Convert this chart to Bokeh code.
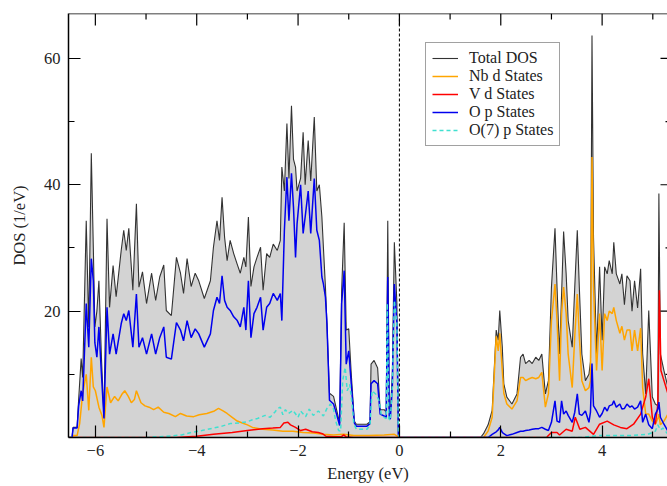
import math
from bokeh.plotting import figure
from bokeh.models import Range1d, FixedTicker, Span, Legend, LegendItem
from bokeh.embed import file_html
from bokeh.resources import INLINE

# ---------------- data ----------------
energy_valence = [-6.53, -6.46, -6.44, -6.36, -6.33, -6.28, -6.25, -6.18, -6.13, -6.08,
                  -6.04, -6.01, -5.97, -5.93, -5.88, -5.83, -5.77, -5.72, -5.65, -5.59,
                  -5.49, -5.44, -5.39, -5.34, -5.26, -5.19, -5.14, -5.07, -4.99, -4.89,
                  -4.81, -4.73, -4.65, -4.60, -4.50, -4.40, -4.32, -4.26, -4.19, -4.11,
                  -4.03, -3.96, -3.85, -3.73, -3.67, -3.60, -3.55, -3.50, -3.45, -3.40,
                  -3.34, -3.27, -3.20, -3.14, -3.07, -3.03, -2.98, -2.93, -2.87, -2.81,
                  -2.74, -2.69, -2.62, -2.56, -2.49, -2.41, -2.35, -2.32, -2.27, -2.22,
                  -2.18, -2.13, -2.09, -2.05, -2.02, -1.95, -1.90, -1.86, -1.80, -1.75,
                  -1.68, -1.63, -1.58, -1.53, -1.50, -1.46, -1.43, -1.38, -1.30, -1.24,
                  -1.18, -1.14, -1.09, -1.05, -1.00, -0.95, -0.89, -0.85, -0.64, -0.58,
                  -0.56, -0.50, -0.43, -0.38, -0.30, -0.26, -0.23, -0.20, -0.18, -0.14,
                  -0.10, -0.05, -0.02, 0.00]
total_valence = [0, 0, 1.6, 1.6, 6.0, 12.5, 9.5, 34.3, 17.5, 45.0,
                 30.0, 17.5, 20.0, 24.8, 12.7, 3.2, 34.6, 20.6, 27.2, 22.3,
                 29.6, 32.8, 29.6, 33.1, 23.3, 37.0, 23.8, 26.2, 21.2, 26.0,
                 21.7, 25.4, 27.3, 20.1, 19.3, 28.5, 26.0, 22.8, 28.3, 23.9,
                 26.0, 24.8, 22.0, 24.8, 30.1, 34.3, 31.2, 38.0, 31.7, 28.0,
                 31.2, 29.1, 27.4, 26.0, 28.5, 27.0, 34.9, 23.9, 27.0, 28.5,
                 30.1, 23.3, 29.1, 28.5, 30.6, 29.6, 31.2, 42.8, 39.0, 49.7,
                 41.0, 52.5, 44.0, 42.8, 39.0, 41.0, 48.3, 40.0, 47.0, 40.6,
                 50.7, 39.0, 40.0, 34.9, 30.1, 23.8, 18.0, 7.0, 6.5, 4.4,
                 2.3, 23.3, 34.0, 17.0, 17.2, 10.0, 2.6, 2.1, 2.1, 2.5,
                 11.6, 12.2, 11.0, 4.4, 4.4, 4.0, 34.3, 4.0, 3.9, 10.0,
                 30.9, 21.2, 0.5, 0.0]
op_valence = [0, 0, 1.5, 1.5, 5.0, 7.4, 5.8, 21.2, 14.3, 28.3,
              24.8, 15.0, 12.7, 17.5, 10.0, 3.0, 20.6, 13.2, 16.4, 13.2,
              18.0, 19.6, 18.5, 20.1, 14.3, 22.7, 14.3, 15.8, 13.2, 16.4,
              13.2, 15.8, 17.5, 12.7, 12.4, 18.2, 17.0, 15.3, 18.5, 15.8,
              17.2, 16.4, 14.3, 16.4, 20.1, 22.2, 21.2, 25.6, 21.7, 20.6,
              20.1, 19.1, 18.5, 17.5, 20.6, 17.0, 24.8, 15.8, 19.6, 20.6,
              22.2, 17.0, 20.6, 21.2, 22.8, 21.7, 22.8, 18.5, 32.8, 41.2,
              34.3, 41.8, 36.4, 28.5, 33.8, 40.0, 32.3, 34.9, 39.0, 32.3,
              41.0, 32.8, 31.2, 25.4, 24.3, 22.2, 18.0, 5.9, 5.3, 3.7,
              1.9, 21.2, 26.4, 11.6, 13.7, 8.5, 2.3, 1.8, 1.8, 2.2,
              8.5, 9.0, 8.5, 3.7, 3.4, 3.2, 25.4, 3.2, 2.9, 8.0,
              24.3, 18.0, 0.4, 0.0]

energy_conduction = [1.60, 1.66, 1.75, 1.83, 1.91, 1.95, 1.98, 2.03, 2.06, 2.12,
                     2.22, 2.32, 2.39, 2.44, 2.49, 2.56, 2.62, 2.69, 2.75, 2.81,
                     2.88, 2.94, 3.00, 3.07, 3.11, 3.16, 3.20, 3.24, 3.29, 3.33,
                     3.41, 3.46, 3.51, 3.55, 3.60, 3.67, 3.74, 3.77, 3.80, 3.83,
                     3.89, 3.95, 4.00, 4.05, 4.10, 4.14, 4.20, 4.23, 4.28, 4.35,
                     4.39, 4.44, 4.49, 4.55, 4.59, 4.64, 4.70, 4.76, 4.80, 4.86,
                     4.92, 4.99, 5.05, 5.10, 5.12, 5.15, 5.22, 5.30]
total_conduction = [0, 0.6, 2.0, 4.3, 17.0, 15.4, 20.1, 14.3, 8.5, 6.4,
                    5.3, 6.9, 12.7, 13.2, 11.7, 12.2, 11.7, 12.7, 12.2, 13.2,
                    6.9, 9.0, 23.8, 33.1, 23.8, 13.2, 22.7, 32.6, 25.9, 18.5,
                    14.3, 23.8, 32.8, 23.8, 13.2, 9.0, 10.0, 12.0, 63.6, 31.7,
                    13.2, 27.0, 15.4, 27.0, 25.9, 28.0, 25.9, 30.9, 25.9, 24.3,
                    25.9, 21.0, 25.6, 24.8, 20.0, 24.8, 20.5, 26.7, 13.2, 6.9,
                    20.1, 6.4, 5.3, 5.0, 38.6, 13.2, 10.6, 7.9]
op_conduction = [0, 0, 0, 0.5, 0.9, 1.2, 1.6, 0.8, 0.6, 0.3,
                 0.5, 0.8, 1.0, 1.0, 1.1, 1.2, 1.3, 1.4, 1.4, 1.6,
                 1.3, 1.1, 2.4, 5.8, 2.6, 2.4, 5.8, 3.7, 4.2, 3.5,
                 2.4, 4.0, 6.9, 3.7, 3.5, 4.2, 2.4, 4.0, 11.7, 5.0,
                 4.2, 3.2, 3.8, 4.8, 4.2, 5.0, 5.2, 5.8, 4.8, 5.3,
                 4.5, 4.6, 5.3, 4.8, 5.0, 4.5, 4.8, 5.8, 2.4, 3.7,
                 2.0, 1.4, 3.7, 4.5, 5.6, 3.2, 2.1, 1.0]
nbd_conduction = [0, 0, 1.0, 3.2, 16.0, 13.7, 16.5, 10.6, 7.0, 5.3,
                  4.5, 5.8, 9.5, 9.5, 9.0, 9.3, 9.5, 9.3, 9.5, 10.3,
                  4.8, 6.9, 18.5, 24.3, 18.5, 9.0, 19.6, 23.8, 19.6, 13.2,
                  7.9, 16.0, 22.7, 16.0, 9.0, 7.4, 7.9, 9.0, 44.4, 23.8,
                  10.6, 19.6, 10.6, 19.6, 18.5, 20.0, 19.6, 20.6, 18.5, 16.5,
                  17.6, 15.4, 17.0, 17.0, 13.7, 17.0, 13.7, 17.3, 7.9, 3.7,
                  3.7, 2.6, 2.1, 3.0, 3.7, 2.0, 2.6, 3.7]

nbd_energy_valence = [-6.53, -6.46, -6.44, -6.36, -6.31, -6.25, -6.18, -6.13, -6.08, -6.04,
                      -6.00, -5.93, -5.87, -5.83, -5.77, -5.70, -5.62, -5.55, -5.48, -5.42,
                      -5.35, -5.29, -5.23, -5.19, -5.10, -5.02, -4.94, -4.85, -4.76, -4.65,
                      -4.55, -4.42, -4.32, -4.20, -4.06, -3.95, -3.80, -3.65, -3.57, -3.48,
                      -3.40, -3.30, -3.20, -3.10, -3.00, -2.90, -2.70, -2.50, -2.30, -2.10,
                      -1.90, -1.70, -1.50, -1.30, -1.10, -0.90, -0.60, -0.30, -0.10, 0.00]
nbd_valence = [0, 0, 0.3, 0.3, 2.2, 7.0, 10.0, 4.3, 12.7, 8.0,
               7.4, 4.8, 3.5, 1.6, 8.0, 5.5, 6.5, 5.8, 6.8, 7.4,
               6.5, 5.5, 6.0, 7.4, 5.5, 5.0, 4.8, 4.4, 4.8, 4.0,
               3.8, 3.3, 3.8, 3.4, 3.3, 3.6, 3.8, 4.2, 4.6, 4.2,
               3.8, 3.2, 2.6, 2.3, 2.0, 1.6, 1.3, 1.2, 1.0, 1.0,
               0.8, 0.7, 0.5, 0.4, 0.5, 0.3, 0.3, 0.4, 0.5, 0.0]

vd_energy = [-6.53, -4.40, -4.00, -3.67, -3.30, -3.00, -2.70, -2.50, -2.35, -2.28,
             -2.20, -2.15, -2.05, -1.95, -1.85, -1.72, -1.60, -1.52, -1.45, -1.30,
             -1.15, -1.10, -1.05, -0.90, 0.00, 1.60, 2.90, 3.00, 3.11, 3.16,
             3.29, 3.41, 3.47, 3.56, 3.67, 3.83, 3.95, 4.10, 4.23, 4.36,
             4.49, 4.62, 4.76, 4.86, 4.92, 4.99, 5.05, 5.10, 5.13, 5.16,
             5.22, 5.30]
vd_states = [0, 0, 0.2, 0.5, 0.8, 1.1, 1.4, 1.5, 1.6, 2.3,
             2.4, 2.0, 1.6, 1.1, 1.3, 0.9, 0.8, 0.6, 0.2, 0.1,
             0.1, 0.4, 0.1, 0, 0, 0, 0, 0.8, 0.8, 0.4,
             1.3, 1.0, 3.2, 1.3, 1.6, 0.5, 2.1, 2.6, 2.0, 1.6,
             1.4, 2.1, 3.7, 6.4, 9.3, 3.2, 2.1, 5.3, 23.3, 10.6,
             9.0, 6.9]

o7_energy = [-6.53, -5.00, -4.60, -4.30, -4.10, -3.90, -3.67, -3.50, -3.34, -3.15,
             -3.00, -2.90, -2.80, -2.65, -2.55, -2.46, -2.40, -2.35, -2.30, -2.25,
             -2.19, -2.10, -2.00, -1.95, -1.85, -1.78, -1.70, -1.60, -1.50, -1.43,
             -1.36, -1.30, -1.26, -1.20, -1.16, -1.12, -1.07, -1.03, -0.98, -0.93,
             -0.90, -0.85, -0.64, -0.58, -0.54, -0.46, -0.40, -0.36, -0.30, -0.26,
             -0.24, -0.21, -0.18, -0.14, -0.10, -0.05, -0.02, 0.00, 1.60, 3.60,
             3.90, 4.50, 4.90, 5.05, 5.10, 5.15, 5.20, 5.30]
o7_states = [0, 0, 0.2, 0.4, 0.8, 1.1, 1.5, 1.8, 2.2, 2.3,
             2.5, 2.8, 3.0, 3.5, 3.2, 4.0, 4.6, 4.8, 3.6, 4.4,
             3.8, 4.3, 3.2, 4.2, 3.3, 4.5, 3.5, 4.2, 3.4, 4.6,
             5.3, 4.5, 2.7, 1.1, 1.0, 9.0, 11.1, 7.4, 8.4, 5.0,
             2.2, 1.3, 1.3, 2.0, 7.4, 6.8, 5.8, 3.7, 3.2, 3.0,
             21.2, 3.0, 2.7, 8.0, 21.7, 18.0, 0.5, 0, 0, 0,
             0.3, 0.3, 0.5, 1.0, 2.0, 1.2, 1.5, 0.5]

x_ticks = [-6, -4, -2, 0, 2, 4]
x_minor = [-5, -3, -1, 1, 3, 5]
y_ticks = [20, 40, 60]
y_minor = [10, 30, 50]
legend_labels = ["Total DOS", "Nb d States", "V d States", "O p States", "O(7) p States"]

energy = energy_valence + energy_conduction
total_dos = total_valence + total_conduction
op_states = op_valence + op_conduction
nbd_energy = nbd_energy_valence + energy_conduction
nbd_states = nbd_valence + nbd_conduction
assert len(energy) == len(total_dos) == len(op_states)
assert len(nbd_energy) == len(nbd_states)
assert len(vd_energy) == len(vd_states)
assert len(o7_energy) == len(o7_states)

# ---------------- figure ----------------
FONT = "Liberation Serif"
X_MIN, X_MAX = -6.53, 5.29
Y_MIN, Y_MAX = 0, 67.1
p = figure(width=667, height=486, output_backend="svg", toolbar_location=None,
           x_range=Range1d(X_MIN, X_MAX), y_range=Range1d(Y_MIN, Y_MAX),
           x_axis_label="Energy (eV)", y_axis_label="DOS (1/eV)",
           min_border_left=68, min_border_right=0, min_border_top=13, min_border_bottom=49)
p.outline_line_color = None
p.xgrid.visible = False
p.ygrid.visible = False
p.background_fill_color = "white"

p.varea(x=energy, y1=0, y2=total_dos, fill_color="#d3d3d3")
r_tot = p.line(energy, total_dos, line_color="#333333", line_width=1.1)
r_nb = p.line(nbd_energy, nbd_states, line_color="#ffa500", line_width=1.5)
r_v = p.line(vd_energy, vd_states, line_color="#ff0000", line_width=1.5)
r_op = p.line(energy, op_states, line_color="#0000ee", line_width=1.5)
r_o7 = p.line(o7_energy, o7_states, line_color="#40e0d0", line_width=1.5, line_dash="4 3")

# Fermi level
p.add_layout(Span(location=0, dimension="height", line_color="black",
                  line_dash="3 2", line_width=1))
# top spine
p.add_layout(Span(location=Y_MAX, dimension="width", line_color="black", line_width=1.5))

# inward ticks on the top and right edges
tick_style = dict(line_color="black", line_width=1.2, length_units="screen")
p.ray(x=x_ticks, y=[Y_MAX] * len(x_ticks), length=12, angle=-math.pi / 2, **tick_style)
p.ray(x=x_minor, y=[Y_MAX] * len(x_minor), length=6, angle=-math.pi / 2, **tick_style)
p.ray(x=[X_MAX] * len(y_ticks), y=y_ticks, length=7, angle=math.pi, **tick_style)
p.ray(x=[X_MAX] * len(y_minor), y=y_minor, length=2, angle=math.pi, **tick_style)


def style(ax, ticks, minor):
    ax.ticker = FixedTicker(ticks=ticks, minor_ticks=minor)
    ax.axis_line_color = "black"
    ax.axis_line_width = 1.5
    ax.major_tick_in = 12
    ax.major_tick_out = 0
    ax.minor_tick_in = 6
    ax.minor_tick_out = 0
    ax.major_tick_line_color = "black"
    ax.minor_tick_line_color = "black"
    ax.major_tick_line_width = 1.2
    ax.minor_tick_line_width = 1.2
    ax.major_label_text_font = FONT
    ax.major_label_text_font_size = "16.5px"
    ax.major_label_text_color = "#222222"
    ax.axis_label_text_font = FONT
    ax.axis_label_text_font_size = "16.5px"
    ax.axis_label_text_font_style = "normal"
    ax.axis_label_text_color = "#222222"


style(p.xaxis[0], x_ticks, x_minor)
p.xaxis[0].major_label_standoff = 7
p.xaxis[0].axis_label_standoff = 5
style(p.yaxis[0], y_ticks, y_minor)
p.yaxis[0].major_label_standoff = 8
p.yaxis[0].axis_label_standoff = 12

renderers = [r_tot, r_nb, r_v, r_op, r_o7]
legend = Legend(items=[LegendItem(label=lab, renderers=[r])
                       for lab, r in zip(legend_labels, renderers)],
                location=(357, 291))
legend.label_text_font = FONT
legend.label_text_font_size = "16px"
legend.label_text_color = "#222222"
legend.label_height = 18
legend.glyph_height = 18
legend.glyph_width = 26
legend.label_standoff = 11
legend.spacing = 0
legend.padding = 6
legend.margin = 0
legend.border_line_color = "#444444"
legend.border_line_width = 1.2
legend.background_fill_color = "white"
legend.background_fill_alpha = 1.0
p.add_layout(legend)

open("out.html", "w").write(file_html(p, INLINE))
